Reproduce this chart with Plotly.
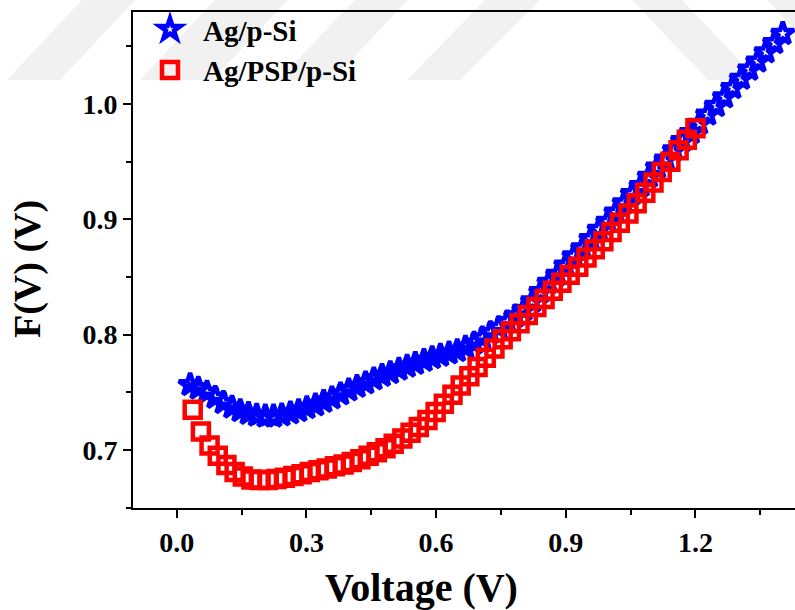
import plotly.graph_objects as go

# Ag/p-Si : F(V) function versus applied voltage
v_agsi = [0.031, 0.050, 0.070, 0.089, 0.108, 0.128, 0.147, 0.166, 0.185, 0.205,
          0.224, 0.243, 0.263, 0.282, 0.301, 0.321, 0.340, 0.359, 0.379, 0.398,
          0.417, 0.437, 0.456, 0.475, 0.494, 0.514, 0.533, 0.552, 0.572, 0.591,
          0.610, 0.630, 0.649, 0.668, 0.688, 0.707, 0.726, 0.745, 0.765, 0.784,
          0.803, 0.823, 0.842, 0.861, 0.881, 0.900, 0.919, 0.939, 0.958, 0.977,
          0.997, 1.016, 1.035, 1.054, 1.074, 1.093, 1.112, 1.132, 1.151, 1.170,
          1.190, 1.209, 1.228, 1.248, 1.267, 1.286, 1.306, 1.325, 1.344, 1.363,
          1.383, 1.402]
f_agsi = [0.7565, 0.7535, 0.7500, 0.7455, 0.7410, 0.7370, 0.7340, 0.7315, 0.7300, 0.7293,
          0.7293, 0.7303, 0.7320, 0.7340, 0.7365, 0.7390, 0.7420, 0.7450, 0.7485, 0.7520,
          0.7550, 0.7580, 0.7615, 0.7645, 0.7670, 0.7700, 0.7725, 0.7750, 0.7775, 0.7800,
          0.7820, 0.7840, 0.7860, 0.7890, 0.7925, 0.7970, 0.8015, 0.8060, 0.8110, 0.8160,
          0.8215, 0.8290, 0.8370, 0.8450, 0.8520, 0.8600, 0.8680, 0.8750, 0.8830, 0.8910,
          0.8980, 0.9060, 0.9140, 0.9220, 0.9290, 0.9370, 0.9450, 0.9520, 0.9600, 0.9680,
          0.9750, 0.9830, 0.9910, 0.9985, 1.0060, 1.0140, 1.0220, 1.0300, 1.0370, 1.0450,
          1.0530, 1.0610]

# Ag/PSP/p-Si : F(V) function versus applied voltage
v_agpsp = [0.037, 0.056, 0.076, 0.095, 0.115, 0.134, 0.153, 0.173, 0.192, 0.211,
           0.231, 0.250, 0.270, 0.289, 0.308, 0.328, 0.347, 0.366, 0.386, 0.405,
           0.425, 0.444, 0.463, 0.483, 0.502, 0.522, 0.541, 0.560, 0.580, 0.599,
           0.618, 0.638, 0.657, 0.677, 0.696, 0.715, 0.735, 0.754, 0.773, 0.793,
           0.812, 0.832, 0.851, 0.870, 0.890, 0.909, 0.929, 0.948, 0.967, 0.987,
           1.006, 1.025, 1.045, 1.064, 1.084, 1.103, 1.122, 1.142, 1.161, 1.180,
           1.200]
f_agpsp = [0.7350, 0.7160, 0.7040, 0.6950, 0.6870, 0.6810, 0.6770, 0.6745, 0.6740, 0.6740,
           0.6748, 0.6760, 0.6775, 0.6790, 0.6810, 0.6825, 0.6840, 0.6858, 0.6875, 0.6895,
           0.6920, 0.6950, 0.6980, 0.7015, 0.7055, 0.7100, 0.7150, 0.7200, 0.7260, 0.7330,
           0.7400, 0.7480, 0.7560, 0.7640, 0.7720, 0.7800, 0.7880, 0.7960, 0.8030, 0.8100,
           0.8170, 0.8240, 0.8310, 0.8380, 0.8450, 0.8520, 0.8590, 0.8670, 0.8740, 0.8810,
           0.8890, 0.8970, 0.9050, 0.9140, 0.9230, 0.9320, 0.9410, 0.9500, 0.9600, 0.9690,
           0.9790]

x_ticks = [0.0, 0.3, 0.6, 0.9, 1.2]
x_labels = ["0.0", "0.3", "0.6", "0.9", "1.2"]
y_ticks = [0.7, 0.8, 0.9, 1.0]
y_labels = ["0.7", "0.8", "0.9", "1.0"]

FONT = "Liberation Serif, Times New Roman, serif"

fig = go.Figure()
fig.add_trace(go.Scatter(
    x=v_agsi, y=f_agsi, mode="markers", name="Ag/p-Si",
    marker=dict(symbol="star-open", size=17, color="#0000ff",
                line=dict(color="#0000ff", width=4.5)),
))
fig.add_trace(go.Scatter(
    x=v_agpsp, y=f_agpsp, mode="markers", name="Ag/PSP/p-Si",
    marker=dict(symbol="square-open", size=16, color="#ff0000",
                line=dict(color="#ff0000", width=4.5)),
))

# faint background watermark stripes (pixel geometry converted to paper units)
L, T, R, B = 133, 12, 795, 508
def px(xp, yp):
    return (xp - L) / (R - L), (B - yp) / (B - T)

stripes = [
    [(7, 80), (60, 80), (135, 0), (82, 0)],
    [(140, 80), (212, 80), (288, 0), (215, 0)],
    [(278, 80), (332, 80), (408, 0), (355, 0)],
    [(407, 80), (460, 80), (540, 0), (485, 0)],
    [(632, 0), (682, 0), (758, 80), (708, 80)],
    [(767, 0), (795, 0), (795, 30)],
]
for poly in stripes:
    pts = [px(a, b) for a, b in poly]
    path = "M " + " L ".join(f"{p[0]:.4f},{p[1]:.4f}" for p in pts) + " Z"
    fig.add_shape(type="path", path=path, xref="paper", yref="paper",
                  fillcolor="#f1f1f1", line=dict(width=0), layer="below")

axis_common = dict(
    showgrid=False, zeroline=False, showline=True, linecolor="black", linewidth=2,
    ticks="outside", ticklen=8, tickwidth=2, tickcolor="black",
    tickfont=dict(family=FONT, size=28, color="black", weight="bold"),
)
fig.update_xaxes(range=[-0.1011, 1.4303], tickvals=x_ticks, ticktext=x_labels,
                 mirror=True,
                 minor=dict(dtick=0.15, tick0=0, ticklen=5, tickwidth=2,
                            tickcolor="black", ticks="outside"),
                 **axis_common)
fig.update_yaxes(range=[0.6497, 1.0798], tickvals=y_ticks, ticktext=y_labels,
                 minor=dict(dtick=0.05, tick0=0.7, ticklen=5, tickwidth=2,
                            tickcolor="black", ticks="outside"),
                 **axis_common)

fig.add_annotation(text="Voltage (V)", xref="paper", yref="paper",
                   x=px(421, 0)[0], y=px(0, 587)[1], showarrow=False,
                   xanchor="center", yanchor="middle",
                   font=dict(family=FONT, size=40, color="black", weight="bold"))
fig.add_annotation(text="F(V) (V)", xref="paper", yref="paper",
                   x=px(28, 0)[0], y=px(0, 269)[1], showarrow=False, textangle=-90,
                   xanchor="center", yanchor="middle",
                   font=dict(family=FONT, size=38, color="black", weight="bold"))

fig.update_layout(
    width=795, height=610,
    margin=dict(l=L, r=0, t=T, b=610 - B),
    paper_bgcolor="white", plot_bgcolor="rgba(0,0,0,0)",
    showlegend=True,
    legend=dict(x=px(137, 0)[0], y=px(0, 4)[1], xanchor="left", yanchor="top",
                bgcolor="rgba(0,0,0,0)", borderwidth=0, itemwidth=56,
                font=dict(family=FONT, size=29, color="black", weight="bold"),
                tracegroupgap=0),
)

fig.write_html("out.html")
